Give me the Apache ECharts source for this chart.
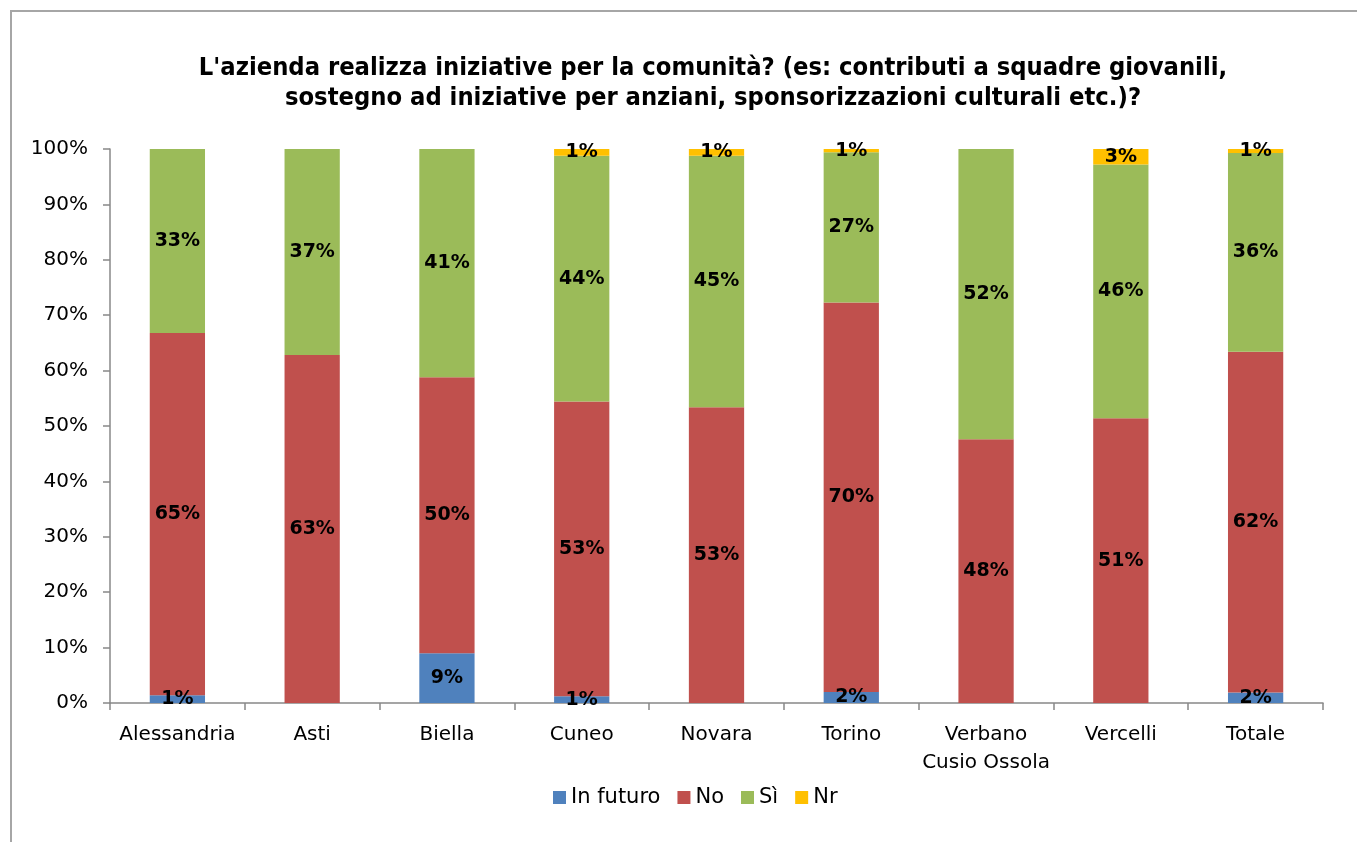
<!DOCTYPE html>
<html>
<head>
<meta charset="utf-8">
<script src="https://cdn.jsdelivr.net/npm/echarts@6/dist/echarts.min.js"></script>
<style>
  html, body { margin: 0; padding: 0; background: #fff; }
  #chart { width: 1357px; height: 842px; }
</style>
</head>
<body>
<div id="chart"></div>
<script>
// Province categories and the share (%) of each answer
const categories = ['Alessandria', 'Asti', 'Biella', 'Cuneo', 'Novara', 'Torino', 'Verbano\nCusio Ossola', 'Vercelli', 'Totale'];
const inFuturo = [1.4, 0, 9.0, 1.2, 0, 2.0, 0, 0, 1.9];
const no       = [65.4, 62.8, 49.8, 53.2, 53.4, 70.3, 47.6, 51.4, 61.5];
const si       = [33.2, 37.2, 41.2, 44.4, 45.4, 27.1, 52.4, 45.8, 35.9];
const nr       = [0, 0, 0, 1.2, 1.2, 0.6, 0, 2.8, 0.7];
const yTicks = [0, 10, 20, 30, 40, 50, 60, 70, 80, 90, 100];

const titleText = "L'azienda realizza iniziative per la comunità? (es: contributi a squadre giovanili,\nsostegno ad iniziative per anziani, sponsorizzazioni culturali etc.)?";

const FONT = 'DejaVu Sans, Verdana, sans-serif';

const chart = echarts.init(document.getElementById('chart'), null, { renderer: 'canvas' });

function makeSeries(name, data, color) {
  return {
    name: name,
    type: 'bar',
    stack: 'total',
    barCategoryGap: '59%',
    data: data,
    itemStyle: { color: color },
    label: {
      show: true,
      position: 'inside',
      color: '#000',
      fontFamily: FONT,
      fontWeight: 'bold',
      fontSize: 19,
      formatter: p => (p.value > 0 ? Math.round(p.value) + '%' : '')
    }
  };
}

chart.setOption({
  animation: false,
  backgroundColor: '#fff',
  textStyle: { fontFamily: FONT },
  graphic: [
    {
      type: 'polyline',
      shape: { points: [[11, 842], [11, 11], [1357, 11]] },
      style: { stroke: '#a6a6a6', lineWidth: 2, fill: null }
    },
    {
      type: 'text',
      x: 713,
      y: 53,
      style: {
        text: titleText,
        align: 'center',
        fontFamily: 'DejaVu Sans Condensed, DejaVu Sans, sans-serif',
        fontWeight: 'bold',
        fontSize: 25.3,
        lineHeight: 30,
        fill: '#000'
      }
    }
  ],
  legend: {
    data: ['In futuro', 'No', 'Sì', 'Nr'],
    left: 548,
    top: 782,
    icon: 'rect',
    itemWidth: 13,
    itemHeight: 13,
    itemGap: 17,
    textStyle: { fontFamily: FONT, fontSize: 21, color: '#000' }
  },
  grid: { left: 110, right: 34, top: 149, bottom: 139, containLabel: false },
  xAxis: {
    type: 'category',
    data: categories,
    axisLine: { lineStyle: { color: '#888', width: 1.5 } },
    axisTick: { show: true, length: 7, lineStyle: { color: '#888', width: 1.5 } },
    axisLabel: { color: '#000', fontFamily: FONT, fontSize: 20, margin: 18, lineHeight: 28, interval: 0 }
  },
  yAxis: {
    type: 'value',
    min: 0,
    max: 100,
    interval: 10,
    axisLine: { show: true, lineStyle: { color: '#888', width: 1.5 } },
    axisTick: { show: true, inside: false, length: 7, lineStyle: { color: '#888', width: 1.5 } },
    splitLine: { show: false },
    axisLabel: {
      color: '#000',
      fontFamily: FONT,
      fontSize: 20,
      margin: 22,
      formatter: v => (yTicks.includes(v) ? v + '%' : '')
    }
  },
  series: [
    makeSeries('In futuro', inFuturo, '#4F81BD'),
    makeSeries('No', no, '#C0504D'),
    makeSeries('Sì', si, '#9BBB59'),
    makeSeries('Nr', nr, '#FFC000')
  ]
});
</script>
</body>
</html>
